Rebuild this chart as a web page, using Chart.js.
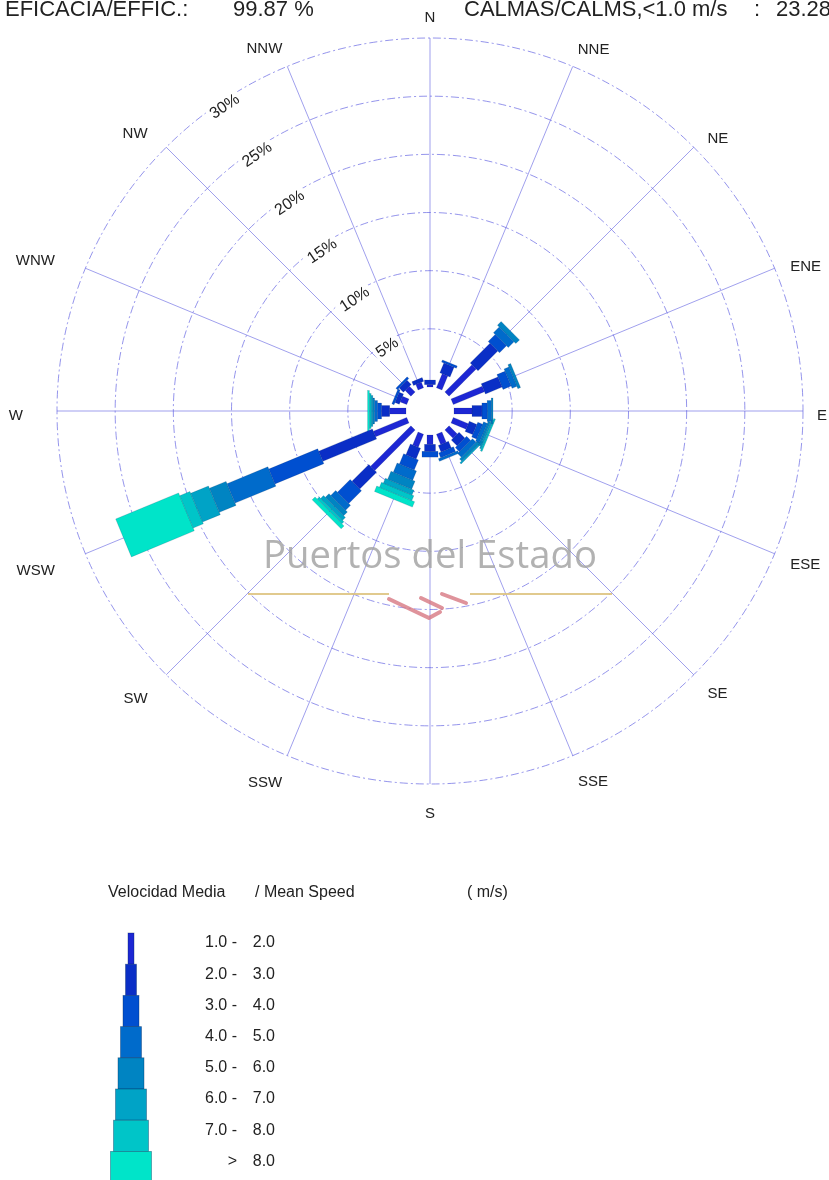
<!DOCTYPE html>
<html>
<head>
<meta charset="utf-8">
<script src="https://cdn.jsdelivr.net/npm/chart.js@4.4.0/dist/chart.umd.min.js"></script>
<style>
  html, body { margin: 0; padding: 0; background: #fff; }
  #wrap { width: 829px; height: 1180px; position: relative; }
</style>
</head>
<body>
<div id="wrap"><canvas id="roseChart"></canvas></div>
<script>
// directions, clockwise from north
const directions = ['N', 'NNE', 'NE', 'ENE', 'E', 'ESE', 'SE', 'SSE', 'S', 'SSW', 'SW', 'WSW', 'W', 'WNW', 'NW', 'NNW'];

// frequency (%) of each speed class per direction
const speed1to2 = [0.2, 1.3, 3.3, 2.9, 1.55, 1.4, 1.0, 0.95, 0.8, 1.2, 4.9, 3.1, 1.4, 0.6, 0.7, 0.5];
const speed2to3 = [0.4, 0.9, 2.4, 1.55, 0.85, 0.7, 0.7, 0.6, 0.6, 1.0, 2.05, 5.0, 0.7, 0.4, 0.5, 0.35];
const speed3to4 = [0, 0.2, 0.85, 0.75, 0.45, 0.45, 0.5, 0.45, 0.5, 0.95, 1.55, 4.55, 0.35, 0.2, 0.2, 0];
const speed4to5 = [0, 0, 0.7, 0.45, 0.35, 0.35, 0.45, 0.25, 0, 0.85, 0.6, 3.8, 0.25, 0, 0, 0];
const speed5to6 = [0, 0, 0.45, 0.25, 0.15, 0.2, 0.25, 0, 0, 0.75, 0.45, 1.55, 0.15, 0, 0, 0];
const speed6to7 = [0, 0, 0, 0, 0, 0.15, 0.15, 0, 0, 0.45, 0.35, 1.65, 0.15, 0, 0, 0];
const speed7to8 = [0, 0, 0, 0, 0, 0.15, 0, 0, 0, 0.45, 0.25, 0.95, 0.15, 0, 0, 0];
const speedOver8 = [0, 0, 0, 0, 0, 0, 0, 0, 0, 0.5, 0.35, 5.85, 0.15, 0, 0, 0];

// legend texts of the speed classes (m/s)
const classFrom = ['1.0 -', '2.0 -', '3.0 -', '4.0 -', '5.0 -', '6.0 -', '7.0 -', '>'];
const classTo = ['2.0', '3.0', '4.0', '5.0', '6.0', '7.0', '8.0', '8.0'];

// rings of the radial axis (%)
const ringTicks = [5, 10, 15, 20, 25, 30];

const efficacy = '99.87 %';
const calms = '23.28';

// styles
const classColors = ['#1d27d4', '#0a2ec6', '#004fd0', '#006bcb', '#0084c2', '#00a3c6', '#00c5c8', '#00e4c9'];
const classWidths = [6, 11, 16, 21, 26, 31, 35, 41];
const gridColor = 'rgba(95,95,225,0.75)';
const fontFamily = '"Liberation Sans", Arial, sans-serif';

// layout of the rose
const roseCenter = { x: 430, y: 411 };
const roseRadius = 373;
const calmRadius = 24;
const axisMax = ringTicks[ringTicks.length - 1];
const axisMin = -axisMax * calmRadius / (roseRadius - calmRadius);

// a bar segment drawn as a rectangle along its direction
class RoseBar extends Chart.ArcElement {
  draw(ctx) {
    const len = this.outerRadius - this.innerRadius;
    if (!(len > 0)) return;
    const w = this.barWidth;
    ctx.save();
    ctx.translate(this.x, this.y);
    ctx.rotate(this.startAngle);
    ctx.fillStyle = this.options.backgroundColor;
    ctx.fillRect(this.innerRadius, -w / 2, len, w);
    if (this.options.borderWidth) {
      ctx.lineWidth = this.options.borderWidth;
      ctx.strokeStyle = this.options.borderColor;
      ctx.strokeRect(this.innerRadius, -w / 2, len, w);
    }
    ctx.restore();
  }
}
RoseBar.id = 'roseBar';
RoseBar.defaults = {};

// polar area where each speed class is stacked on the slower ones
class WindRoseController extends Chart.PolarAreaController {
  updateElements(bars, start, count, mode) {
    const scale = this._cachedMeta.rScale;
    const datasets = this.chart.data.datasets;
    const own = this.index;
    for (let i = start; i < start + count; i++) {
      let base = 0;
      for (let k = 0; k < own; k++) base += datasets[k].data[i] || 0;
      const top = base + (datasets[own].data[i] || 0);
      const angle = scale.getIndexAngle(i) - Math.PI / 2;
      this.updateElement(bars[i], i, {
        x: scale.xCenter,
        y: scale.yCenter,
        innerRadius: scale.getDistanceFromCenterForValue(base),
        outerRadius: scale.getDistanceFromCenterForValue(top),
        startAngle: angle,
        endAngle: angle,
        barWidth: datasets[own].barWidth,
        options: this.resolveDataElementOptions(i, mode)
      }, mode);
    }
  }
}
WindRoseController.id = 'windRose';
WindRoseController.defaults = { dataElementType: 'roseBar' };

Chart.register(RoseBar, WindRoseController);

const classData = [speed1to2, speed2to3, speed3to4, speed4to5, speed5to6, speed6to7, speed7to8, speedOver8];

// things drawn under the bars: spokes, watermark, ring labels, calm circle
const underBars = {
  id: 'underBars',
  beforeDatasetsDraw(chart) {
    const ctx = chart.ctx;
    const scale = chart.scales.r;
    const cx = scale.xCenter, cy = scale.yCenter;
    ctx.save();

    // spokes
    ctx.strokeStyle = gridColor;
    ctx.lineWidth = 0.8;
    ctx.setLineDash([]);
    chart.data.labels.forEach((lab, i) => {
      const p = scale.getPointPosition(i, scale.getDistanceFromCenterForValue(axisMax));
      ctx.beginPath();
      ctx.moveTo(cx, cy);
      ctx.lineTo(p.x, p.y);
      ctx.stroke();
    });

    // watermark
    const mark = 'Puertos del Estado';
    ctx.font = '32px "Open Sans", "Noto Sans", sans-serif';
    const size = 32 * 334 / ctx.measureText(mark).width;
    ctx.font = size + 'px "Open Sans", "Noto Sans", sans-serif';
    ctx.fillStyle = 'rgba(165,165,165,0.85)';
    ctx.textAlign = 'center';
    ctx.textBaseline = 'middle';
    ctx.fillText(mark, cx, cy + 146);
    ctx.strokeStyle = 'rgba(222,196,130,0.9)';
    ctx.lineWidth = 2;
    ctx.beginPath();
    ctx.moveTo(cx - 182, cy + 183); ctx.lineTo(cx - 41, cy + 183);
    ctx.moveTo(cx + 40, cy + 183); ctx.lineTo(cx + 182, cy + 183);
    ctx.stroke();
    ctx.strokeStyle = 'rgba(215,120,130,0.8)';
    ctx.lineWidth = 4;
    ctx.lineCap = 'round';
    ctx.beginPath();
    ctx.moveTo(cx - 41, cy + 188); ctx.lineTo(cx - 1, cy + 207);
    ctx.moveTo(cx - 1, cy + 207); ctx.lineTo(cx + 10, cy + 201);
    ctx.moveTo(cx - 9, cy + 187); ctx.lineTo(cx + 12, cy + 197);
    ctx.moveTo(cx + 12, cy + 183); ctx.lineTo(cx + 36, cy + 192);
    ctx.stroke();

    // ring labels along a slanted line
    const a = -34 * Math.PI / 180;
    ctx.font = '16px ' + fontFamily;
    ringTicks.forEach(v => {
      const d = scale.getDistanceFromCenterForValue(v) - 5;
      const x = cx + Math.sin(a) * d;
      const y = cy - Math.cos(a) * d;
      const txt = v + '%';
      const w = ctx.measureText(txt).width;
      ctx.save();
      ctx.translate(x, y);
      ctx.rotate(a);
      ctx.fillStyle = '#fff';
      ctx.fillRect(-w / 2 - 3, -8, w + 6, 16);
      ctx.fillStyle = '#222';
      ctx.fillText(txt, 0, 1);
      ctx.restore();
    });

    // calm circle
    ctx.fillStyle = '#fff';
    ctx.beginPath();
    ctx.arc(cx, cy, scale.getDistanceFromCenterForValue(0), 0, Math.PI * 2);
    ctx.fill();
    ctx.restore();
  }
};

// texts around the rose and the speed legend
const roseTexts = {
  id: 'roseTexts',
  afterDraw(chart) {
    const ctx = chart.ctx;
    const scale = chart.scales.r;
    const cx = scale.xCenter, cy = scale.yCenter;
    ctx.save();
    ctx.fillStyle = '#222';

    // header
    ctx.font = '22px ' + fontFamily;
    ctx.textBaseline = 'alphabetic';
    ctx.textAlign = 'left';
    ctx.fillText('EFICACIA/EFFIC.:', 5, 16);
    ctx.fillText(efficacy, 233, 16);
    ctx.fillText('CALMAS/CALMS,<1.0 m/s', 464, 16);
    ctx.fillText(':', 754, 16);
    ctx.fillText(calms, 776, 16);

    // direction names, pushed out a little more on the west side
    ctx.font = '15px ' + fontFamily;
    ctx.textAlign = 'center';
    ctx.textBaseline = 'middle';
    chart.data.labels.forEach((lab, i) => {
      const a = scale.getIndexAngle(i);
      const s = Math.sin(a), c = Math.cos(a);
      const w = ctx.measureText(lab).width;
      const d = scale.drawingArea + 25 * c * c + (14 + 20 * Math.max(0, -s)) * s * s;
      const sg = Math.abs(s) < 1e-6 ? 0 : Math.sign(s);
      const x = cx + d * s + sg * (w / 2) * (Math.abs(s) + 0.4 * Math.abs(c));
      const y = cy - d * c + 5;
      ctx.fillText(lab, x, y);
    });

    // legend
    ctx.font = '16px ' + fontFamily;
    ctx.textAlign = 'left';
    ctx.fillText('Velocidad Media', 108, 893);
    ctx.fillText('/ Mean Speed', 255, 893);
    ctx.fillText('( m/s)', 467, 893);
    const legX = 131, legTop = 933, rowH = 31.2;
    chart.data.datasets.forEach((ds, k) => {
      const top = legTop + k * rowH;
      ctx.fillStyle = ds.backgroundColor;
      ctx.fillRect(legX - ds.barWidth / 2, top, ds.barWidth, rowH);
      ctx.strokeStyle = 'rgba(0,40,90,0.45)';
      ctx.lineWidth = 0.8;
      ctx.strokeRect(legX - ds.barWidth / 2, top, ds.barWidth, rowH);
      ctx.fillStyle = '#222';
      ctx.textAlign = 'right';
      ctx.fillText(classFrom[k], 237, top + 10);
      ctx.fillText(classTo[k], 275, top + 10);
    });
    ctx.restore();
  }
};

window.addEventListener('load', function() {
  const datasets = classData.map((values, k) => ({
    label: classFrom[k] + ' ' + classTo[k],
    data: values,
    backgroundColor: classColors[k],
    borderColor: 'rgba(0,30,80,0.3)',
    borderWidth: 0.5,
    barWidth: classWidths[k]
  }));

  new Chart(document.getElementById('roseChart'), {
    type: 'windRose',
    data: { labels: directions, datasets: datasets },
    options: {
      responsive: true,
      maintainAspectRatio: false,
      animation: false,
      events: [],
      layout: { padding: 0 },
      plugins: { legend: { display: false }, tooltip: { enabled: false } },
      scales: {
        r: {
          min: axisMin,
          max: axisMax,
          startAngle: 0,
          grid: { circular: true, color: gridColor, lineWidth: 0.9 },
          border: { dash: [8, 3, 2, 3] },
          angleLines: { display: false },
          pointLabels: { display: false },
          ticks: { display: false },
          afterBuildTicks: s => { s.ticks = ringTicks.map(v => ({ value: v })); },
          afterFit: s => {
            s.xCenter = roseCenter.x;
            s.yCenter = roseCenter.y;
            s.drawingArea = roseRadius;
          }
        }
      }
    },
    plugins: [underBars, roseTexts]
  });
});
</script>
</body>
</html>
